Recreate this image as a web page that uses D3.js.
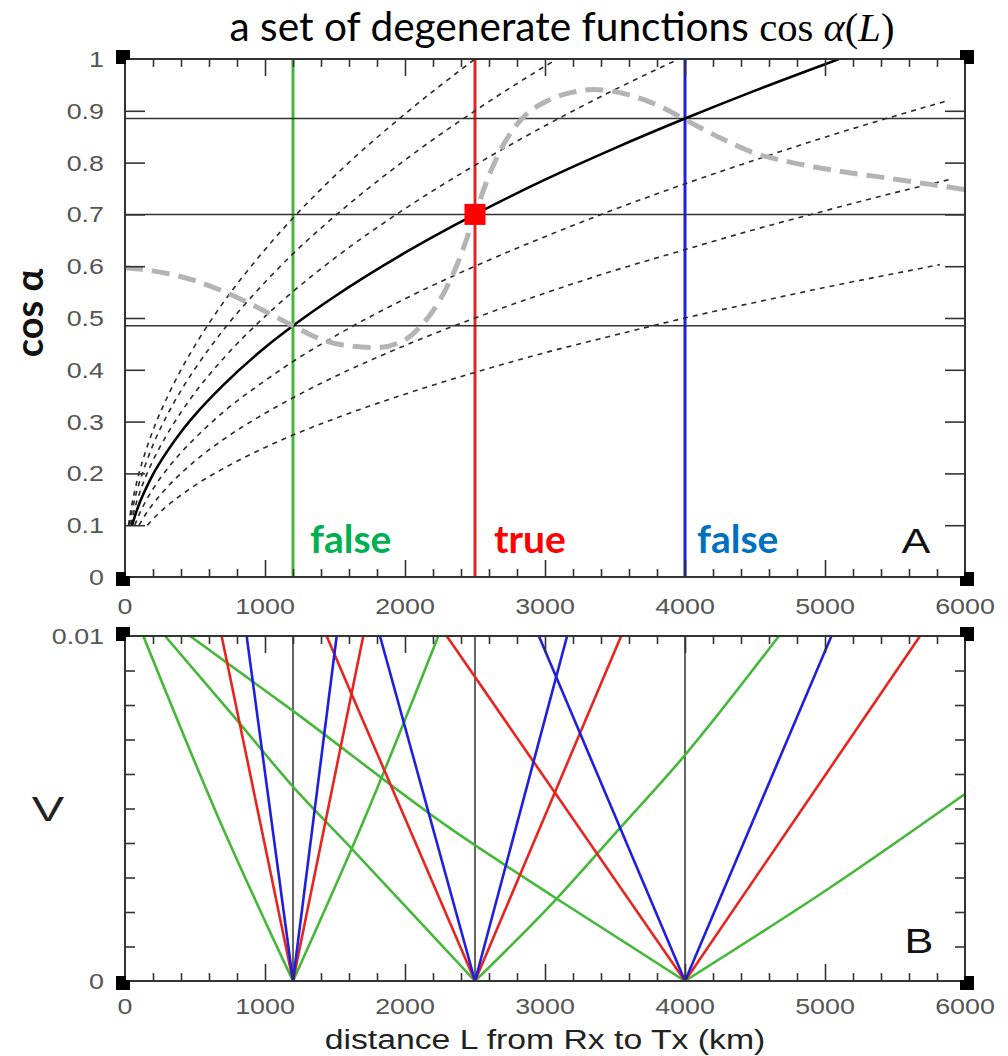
<!DOCTYPE html>
<html><head><meta charset="utf-8">
<script src="https://cdn.jsdelivr.net/npm/d3@7"></script>
<style>body{margin:0;background:#fff}svg{display:block}</style>
</head><body><svg id="c" width="1008" height="1056"></svg>
<script>
// ---------------- data ----------------
const xTickValues = [0, 1000, 2000, 3000, 4000, 5000, 6000];
const xTickLabels = ["0", "1000", "2000", "3000", "4000", "5000", "6000"];
const yTickValuesA = [0, 0.1, 0.2, 0.3, 0.4, 0.5, 0.6, 0.7, 0.8, 0.9, 1];
const yTickLabelsA = ["0", "0.1", "0.2", "0.3", "0.4", "0.5", "0.6", "0.7", "0.8", "0.9", "1"];
const yTickValuesB = [0, 0.01];
const yTickLabelsB = ["0", "0.01"];

const candidateL = [1200, 2500, 4000];
const candidateNames = ["green", "red", "blue"];
const verdicts = ["false", "true", "false"];
const levels = [0.485, 0.70, 0.885];
const trueMarker = [2500, 0.70];

// family of degenerate curves cos α(L) (dashed)
const dashCurve1 = [[160,0.100],[200,0.112],[300,0.137],[400,0.158],[500,0.177],[700,0.209],[1000,0.250],[1200,0.274],[1500,0.306],[2000,0.353],[2500,0.395],[3000,0.433],[3500,0.467],[4000,0.500],[4500,0.530],[5000,0.559],[5500,0.586],[5820,0.603]];
const dashCurve2 = [[100,0.100],[150,0.122],[200,0.141],[300,0.173],[400,0.200],[500,0.224],[700,0.265],[1000,0.316],[1200,0.346],[1500,0.387],[2000,0.447],[2500,0.500],[3000,0.548],[3500,0.592],[4000,0.632],[4500,0.671],[5000,0.707],[5500,0.742],[5900,0.768]];
const dashCurve3 = [[70,0.100],[100,0.120],[150,0.147],[200,0.170],[300,0.208],[400,0.240],[500,0.268],[700,0.318],[1000,0.379],[1200,0.416],[1500,0.465],[2000,0.537],[2500,0.600],[3000,0.657],[3500,0.710],[4000,0.759],[4500,0.805],[5000,0.849],[5500,0.890],[5870,0.919]];
const dashCurve4 = [[40,0.101],[70,0.133],[100,0.159],[150,0.195],[200,0.225],[300,0.275],[400,0.318],[500,0.356],[700,0.421],[1000,0.503],[1200,0.551],[1500,0.616],[2000,0.711],[2500,0.795],[3000,0.871],[3500,0.941],[3955,1.000]];
const dashCurve5 = [[31,0.100],[50,0.127],[70,0.151],[100,0.180],[150,0.220],[200,0.255],[300,0.312],[400,0.360],[500,0.402],[700,0.476],[1000,0.569],[1200,0.624],[1500,0.697],[2000,0.805],[2500,0.900],[3000,0.986],[3086,1.000]];
const dashCurve6 = [[25,0.100],[50,0.141],[70,0.167],[100,0.200],[150,0.245],[200,0.283],[300,0.346],[400,0.400],[500,0.447],[700,0.529],[1000,0.632],[1200,0.693],[1500,0.775],[2000,0.894],[2500,1.000]];
// true curve (solid)
const solidCurve = [[50,0.099],[70,0.117],[100,0.140],[150,0.171],[200,0.198],[300,0.242],[400,0.280],[500,0.313],[700,0.370],[1000,0.443],[1200,0.485],[1500,0.542],[2000,0.626],[2500,0.700],[3000,0.767],[3500,0.828],[4000,0.885],[4500,0.939],[5000,0.990],[5100,1.000]];
// gray dashed curve
const grayCurve = [[0,0.597],[200,0.591],[500,0.572],[750,0.546],[1000,0.513],[1200,0.485],[1400,0.459],[1600,0.446],[1800,0.443],[2000,0.458],[2100,0.481],[2250,0.535],[2400,0.622],[2500,0.700],[2600,0.775],[2700,0.833],[2850,0.889],[3000,0.917],[3200,0.936],[3350,0.941],[3500,0.937],[3700,0.922],[3850,0.905],[4000,0.883],[4250,0.848],[4500,0.818],[4750,0.801],[5000,0.788],[5500,0.768],[6000,0.748]];

// panel B: V(L)
const greenV = [
  [[131,0.01],[660,0.0048],[1200,0]],
  [[1200,0],[1700,0.0046],[2238,0.01]],
  [[286,0.01],[798,0.00757],[1190,0.00568],[1607,0.00389],[2500,0]],
  [[2500,0],[3059,0.00228],[3502,0.00428],[3994,0.00652],[4671,0.01]],
  [[464,0.01],[1190,0.00786],[2321,0.00443],[3059,0.00245],[4000,0]],
  [[4000,0],[5027,0.00268],[6000,0.00542]]
];
const redV = [
  [[690,0.01],[1200,0]],
  [[1200,0],[1702,0.01]],
  [[1440,0.01],[2500,0]],
  [[2500,0],[3544,0.01]],
  [[2298,0.01],[4000,0]],
  [[4000,0],[5679,0.01]]
];
const blueV = [
  [[869,0.01],[1200,0]],
  [[1200,0],[1512,0.01]],
  [[1821,0.01],[2500,0]],
  [[2500,0],[3158,0.01]],
  [[2956,0.01],[4000,0]],
  [[4000,0],[5046,0.01]]
];

// ---------------- styles ----------------
const lineCol = {green: "#45b83a", red: "#e8241f", blue: "#1f1fe0"};
const textCol = {green: "#00b050", red: "#ff0000", blue: "#0070c0"};
const axisCol = "#333";

// ---------------- drawing ----------------
const svg = d3.select("#c");
const x = d3.scaleLinear().domain([0, 6000]).range([125, 965]);
const yA = d3.scaleLinear().domain([0, 1]).range([577, 59]);
const yB = d3.scaleLinear().domain([0, 0.01]).range([981, 636]);

const defs = svg.append("defs");
defs.append("clipPath").attr("id", "clipA").append("rect")
  .attr("x", 125).attr("y", 59).attr("width", 840).attr("height", 518);
defs.append("clipPath").attr("id", "clipB").append("rect")
  .attr("x", 125).attr("y", 636).attr("width", 840).attr("height", 345);

// ---- panel A ----
const gA = svg.append("g").attr("clip-path", "url(#clipA)");
candidateL.forEach((L, i) => {
  gA.append("line").attr("x1", x(L)).attr("x2", x(L)).attr("y1", yA(0)).attr("y2", yA(1))
    .attr("stroke", lineCol[candidateNames[i]]).attr("stroke-width", 3);
});
levels.forEach(v => {
  gA.append("line").attr("x1", x(0)).attr("x2", x(6000)).attr("y1", yA(v)).attr("y2", yA(v))
    .attr("stroke", axisCol).attr("stroke-width", 1.5);
});
const lineA = d3.line().x(d => x(d[0])).y(d => yA(d[1])).curve(d3.curveMonotoneX);
[dashCurve1, dashCurve2, dashCurve3, dashCurve4, dashCurve5, dashCurve6].forEach(c => {
  gA.append("path").attr("d", lineA(c)).attr("fill", "none")
    .attr("stroke", "#2a2a2a").attr("stroke-width", 1.6).attr("stroke-dasharray", "5,5");
});
gA.append("path").attr("d", lineA(solidCurve)).attr("fill", "none")
  .attr("stroke", "#000").attr("stroke-width", 2.6);
gA.append("path").attr("d", lineA(grayCurve)).attr("fill", "none")
  .attr("stroke", "#b4b4b4").attr("stroke-width", 5).attr("stroke-dasharray", "18,9");
svg.append("rect").attr("x", x(trueMarker[0]) - 10.5).attr("y", yA(trueMarker[1]) - 10.5)
  .attr("width", 21).attr("height", 21).attr("fill", "#ff0000");

// ---- panel B ----
const gB = svg.append("g").attr("clip-path", "url(#clipB)");
candidateL.forEach(L => {
  gB.append("line").attr("x1", x(L)).attr("x2", x(L)).attr("y1", yB(0)).attr("y2", yB(0.01))
    .attr("stroke", axisCol).attr("stroke-width", 1.5);
});
const lineB = d3.line().x(d => x(d[0])).y(d => yB(d[1])).curve(d3.curveMonotoneX);
[["green", greenV], ["red", redV], ["blue", blueV]].forEach(([name, set]) => {
  set.forEach(seg => {
    gB.append("path").attr("d", lineB(seg)).attr("fill", "none")
      .attr("stroke", lineCol[name]).attr("stroke-width", 2.6);
  });
});

// ---- frames & ticks ----
const minorX = d3.range(200, 6000, 200).filter(v => v % 1000 !== 0);
const majorX = [1000, 2000, 3000, 4000, 5000];
function styleAxis(g) {
  g.select(".domain").remove();
  g.selectAll("text").remove();
  g.selectAll("line").attr("stroke", axisCol).attr("stroke-width", 1.6);
}
function xTicksFor(top, bottom) {
  svg.append("g").attr("transform", `translate(0,${bottom})`)
    .call(d3.axisTop(x).tickValues(minorX).tickSize(8)).call(styleAxis);
  svg.append("g").attr("transform", `translate(0,${bottom})`)
    .call(d3.axisTop(x).tickValues(majorX).tickSize(17)).call(styleAxis);
  svg.append("g").attr("transform", `translate(0,${top})`)
    .call(d3.axisBottom(x).tickValues(minorX).tickSize(8)).call(styleAxis);
  svg.append("g").attr("transform", `translate(0,${top})`)
    .call(d3.axisBottom(x).tickValues(majorX).tickSize(17)).call(styleAxis);
}
xTicksFor(59, 577);
xTicksFor(636, 981);
svg.append("g").attr("transform", "translate(125,0)")
  .call(d3.axisRight(yA).tickValues(yTickValuesA.slice(1, -1)).tickSize(20)).call(styleAxis);
svg.append("g").attr("transform", "translate(965,0)")
  .call(d3.axisLeft(yA).tickValues(yTickValuesA.slice(1, -1)).tickSize(20)).call(styleAxis);
const yBminor = d3.range(1, 10).map(i => i * 0.001);
svg.append("g").attr("transform", "translate(125,0)")
  .call(d3.axisRight(yB).tickValues(yBminor).tickSize(10)).call(styleAxis);
svg.append("g").attr("transform", "translate(965,0)")
  .call(d3.axisLeft(yB).tickValues(yBminor).tickSize(10)).call(styleAxis);

[[59, 577], [636, 981]].forEach(([t, b]) => {
  svg.append("rect").attr("x", 125).attr("y", t).attr("width", 840).attr("height", b - t)
    .attr("fill", "none").attr("stroke", axisCol).attr("stroke-width", 2);
  [[125, t, -1, -1], [965, t, 1, -1], [125, b, -1, 1], [965, b, 1, 1]].forEach(([cx, cy, dx, dy]) => {
    svg.append("rect").attr("x", cx - 7 + 2 * dx).attr("y", cy - 7 + 2 * dy)
      .attr("width", 14).attr("height", 14).attr("fill", "#000");
    svg.append("rect").attr("x", cx + (dx < 0 ? 1 : -5)).attr("y", cy + (dy < 0 ? 1 : -5))
      .attr("width", 4).attr("height", 4).attr("fill", "#fff");
  });
});

// ---- tick labels ----
const tickFont = "'Liberation Sans', Arial, sans-serif";
function sText(cx, cy, str, size, anchor, sx, fill) {
  return svg.append("text").attr("transform", `translate(${cx},${cy}) scale(${sx},1)`)
    .attr("text-anchor", anchor).attr("font-family", tickFont).attr("font-size", size)
    .attr("fill", fill).text(str);
}
yTickValuesA.forEach((v, i) => sText(104, yA(v) + 8, yTickLabelsA[i], 22, "end", 1.22, "#555"));
yTickValuesB.forEach((v, i) => sText(104, yB(v) + 8, yTickLabelsB[i], 22, "end", 1.22, "#555"));
xTickValues.forEach((v, i) => {
  sText(x(v), 614, xTickLabels[i], 22, "middle", 1.22, "#555");
  sText(x(v), 1014, xTickLabels[i], 22, "middle", 1.22, "#555");
});

// ---- axis titles ----
sText(545, 1049, "distance L from Rx to Tx (km)", 27, "middle", 1.25, "#222");
sText(48, 821, "V", 36, "middle", 1.35, "#222");
sText(916, 553, "A", 36, "middle", 1.2, "#111");
sText(919, 953, "B", 36, "middle", 1.2, "#111");

svg.append("text").attr("transform", "translate(43,313) rotate(-90)")
  .attr("text-anchor", "middle").attr("font-family", "Lato, sans-serif").attr("font-weight", 700)
  .attr("font-size", 38).attr("fill", "#111").text("cos α");

// ---- verdict labels ----
const verdictX = [310, 494, 697];
verdicts.forEach((t, i) => {
  svg.append("text").attr("x", verdictX[i]).attr("y", 553)
    .attr("font-family", "Lato, sans-serif").attr("font-weight", 700).attr("font-size", 39)
    .attr("fill", textCol[candidateNames[i]]).text(t);
});

// ---- title ----
const title = svg.append("text").attr("x", 562).attr("y", 41).attr("text-anchor", "middle")
  .attr("font-family", "Lato, sans-serif").attr("font-size", 34).attr("fill", "#000");
title.append("tspan").text("a set of degenerate functions ");
title.append("tspan").attr("font-family", "'Liberation Serif', serif").text("cos ");
title.append("tspan").attr("font-family", "'Liberation Serif', serif").attr("font-style", "italic").text("α");
title.append("tspan").attr("font-family", "'Liberation Serif', serif").text("(");
title.append("tspan").attr("font-family", "'Liberation Serif', serif").attr("font-style", "italic").text("L");
title.append("tspan").attr("font-family", "'Liberation Serif', serif").text(")");
const tw = title.node().getComputedTextLength();
title.attr("font-size", 34 * 665 / tw);
</script></body></html>
